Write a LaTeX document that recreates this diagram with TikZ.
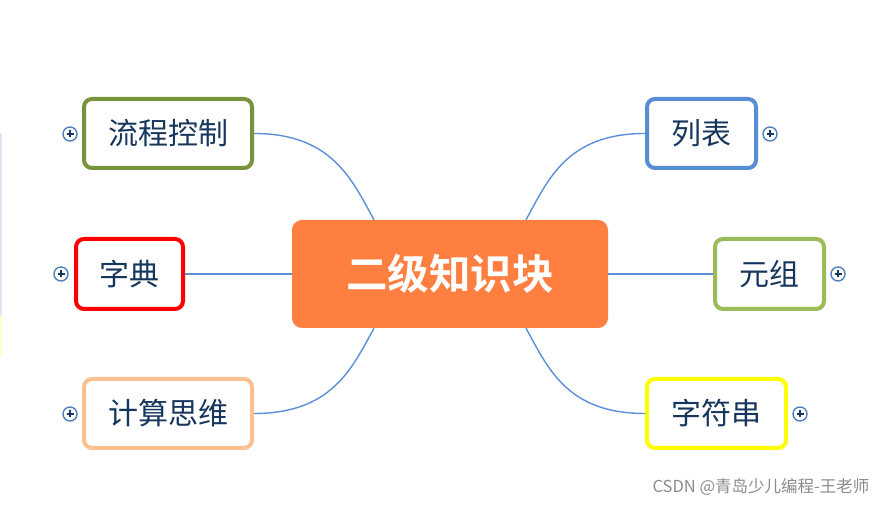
\documentclass[tikz,border=0pt]{standalone}
\usepackage{fontspec}
\usetikzlibrary{calc}
\newfontfamily\cjk{Noto Sans CJK SC}[BoldFont={Noto Sans CJK SC Bold}]
\definecolor{txt}{HTML}{17365D}
\definecolor{corange}{HTML}{FF7F41}
\definecolor{bgreen}{HTML}{77933C}
\definecolor{bred}{HTML}{FF0000}
\definecolor{bpeach}{HTML}{FAC08F}
\definecolor{bblue}{HTML}{558ED5}
\definecolor{blgreen}{HTML}{9BBB59}
\definecolor{byellow}{HTML}{FFFF00}
\definecolor{conn}{HTML}{5B8FD8}
\definecolor{plusc}{HTML}{4F81BD}
\definecolor{stripblue}{HTML}{DCE6F2}
\definecolor{stripyel}{HTML}{FFFFCC}
\begin{document}
\begin{tikzpicture}[x=1pt,y=1pt,
  topic/.style={draw, line width=4pt, rounded corners=8pt, fill=white, font=\cjk\fontsize{30}{32}\selectfont, text=txt, inner sep=0pt, minimum height=69pt},
  central/.style={fill=corange, rounded corners=10pt, font=\cjk\bfseries\fontsize{41.5}{45}\selectfont, text=white, inner sep=0pt, minimum width=316pt, minimum height=108pt},
  link/.style={draw=conn, line width=1.4pt},
  plusnode/.style={circle, draw=plusc, line width=1.4pt, fill=white, minimum size=14pt, inner sep=0pt}
]
\useasboundingbox (0,0) rectangle (887,505);
\fill[white] (0,0) rectangle (887,505);
\fill[stripblue] (0,190) rectangle (2,372);
\fill[stripyel] (0,148) rectangle (2,190);

\node[central] (c) at (450,231) {二级知识块};
\node[topic, draw=bgreen, minimum width=168pt] (lc) at (168,371.5) {流程控制};
\node[topic, draw=bred, minimum width=107pt, minimum height=70pt] (zd) at (129.5,231) {字典};
\node[topic, draw=bpeach, minimum width=168pt] (js) at (168,91.5) {计算思维};
\node[topic, draw=bblue, minimum width=109pt] (lb) at (701.5,371.5) {列表};
\node[topic, draw=blgreen, minimum width=109pt, minimum height=70pt] (yz) at (769.5,231) {元组};
\node[topic, draw=byellow, minimum width=139pt] (zf) at (716.5,91.5) {字符串};

\coordinate (ctl) at ($(c.north)+(-76,0)$);
\coordinate (ctr) at ($(c.north)+(76,0)$);
\coordinate (cbl) at ($(c.south)+(-76,0)$);
\coordinate (cbr) at ($(c.south)+(76,0)$);

\draw[link] (lc.east) .. controls +(78,0) and +(-22,40) .. (ctl);
\draw[link] (js.east) .. controls +(78,0) and +(-22,-40) .. (cbl);
\draw[link] (lb.west) .. controls +(-78,0) and +(22,40) .. (ctr);
\draw[link] (zf.west) .. controls +(-78,0) and +(22,-40) .. (cbr);
\draw[link] (zd.east) -- (c.west);
\draw[link] (yz.west) -- (c.east);

\node[plusnode] (p1) at (70,371) {};
\node[plusnode] (p2) at (61,231) {};
\node[plusnode] (p3) at (70,91) {};
\node[plusnode] (p4) at (770,371) {};
\node[plusnode] (p5) at (838,231) {};
\node[plusnode] (p6) at (800,91) {};
\foreach \p in {p1,p2,p3,p4,p5,p6}{
  \draw[line width=1.4pt, draw=txt] ($(\p)+(-3.5,0)$) -- ($(\p)+(3.5,0)$) ($(\p)+(0,-3.5)$) -- ($(\p)+(0,3.5)$);
}

\node[font=\cjk\fontsize{16.5}{18}\selectfont, text=black!45, anchor=center, inner sep=0pt] (wm) at (761,18) {CSDN @青岛少儿编程-王老师};
\end{tikzpicture}
\end{document}
